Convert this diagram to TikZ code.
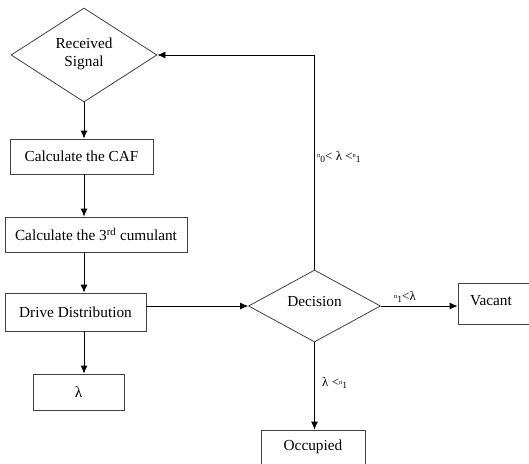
\documentclass[tikz,border=0pt]{standalone}
\usepackage{fontspec}
\setmainfont{Liberation Serif}
\usetikzlibrary{shapes.geometric,arrows.meta}
\newcommand{\nsub}[1]{\raisebox{2.8pt}{\fontsize{6.5}{6.5}\selectfont n}\raisebox{-1.5pt}{\fontsize{9.5}{9.5}\selectfont #1}}
\tikzset{
  txt/.style={font=\fontsize{15.3}{18.5}\selectfont},
  box/.style={draw=black!75, line width=0.8pt, rectangle, inner sep=0pt, txt},
  dia/.style={draw=black!75, line width=0.8pt, diamond, inner sep=0pt},
  arr/.style={line width=0.8pt, -{Latex[length=8pt,width=7pt]}},
  lbl/.style={font=\fontsize{13}{14}\selectfont, inner sep=0pt, anchor=west}
}
\begin{document}
\begin{tikzpicture}[x=1pt,y=-1pt]
\useasboundingbox (0,0) rectangle (529,463);
\clip (0,0) rectangle (529,463);
\node[dia, minimum width=146pt, minimum height=94pt] (rs) at (84,55) {};
\node[txt, align=center] (rst) at (84,54) {Received\\Signal};
\node[box, minimum width=143pt, minimum height=35pt] (caf) at (81.5,156.5) {Calculate the CAF};
\node[box, minimum width=182pt, minimum height=35pt] (cum) at (96,234.5) {Calculate the 3\textsuperscript{rd} cumulant};
\node[box, minimum width=141pt, minimum height=38pt] (drv) at (75.5,312) {Drive Distribution};
\node[box, minimum width=91pt, minimum height=36pt] (lam) at (78.5,392) {λ};
\node[dia, minimum width=132pt, minimum height=72pt] (dec) at (314.5,306) {};
\node[txt] (dect) at (314.5,302) {Decision};
\node[box, minimum width=90pt, minimum height=41pt] (vac) at (503,303.5) {};
\node[txt] (vact) at (491,301) {Vacant};
\node[box, minimum width=104pt, minimum height=50pt] (occ) at (313,455) {};
\node[txt] (occt) at (313,447) {Occupied};
\coordinate (corner) at (dec.north |- rs.east);
\draw[arr] (rs.south) -- (caf.north -| rs.south);
\draw[arr] (caf.south -| rs.south) -- (cum.north -| rs.south);
\draw[arr] (cum.south -| rs.south) -- (drv.north -| rs.south);
\draw[arr] (drv.south -| rs.south) -- (lam.north -| rs.south);
\draw[arr] (drv.east |- dec.west) -- (dec.west);
\draw[arr] (dec.east) -- (vac.west |- dec.east);
\draw[arr] (dec.south) -- (occ.north -| dec.south);
\draw[arr] (dec.north) -- (corner) -- (rs.east);
\node[lbl] (l1) at (317,157) {\nsub{0}< λ <\nsub{1}};
\node[lbl] (l2) at (394,297) {\nsub{1}<λ};
\node[lbl] (l3) at (322,383) {λ <\nsub{1}};
\end{tikzpicture}
\end{document}
